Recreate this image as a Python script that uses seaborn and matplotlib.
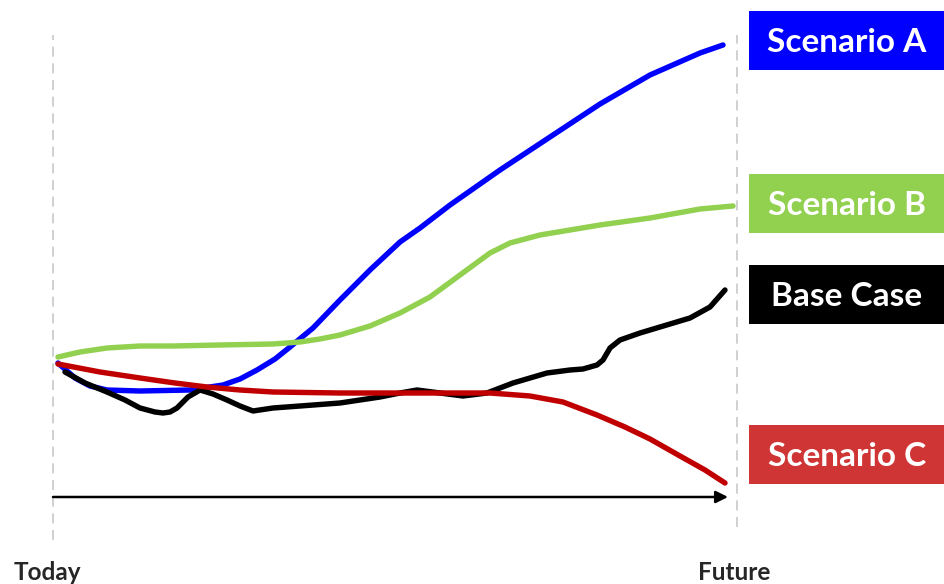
"""
Scenario fan chart: Today -> Future, four trajectories with labelled boxes on the right.
"""

import pandas as pd
import matplotlib.pyplot as plt
from matplotlib.patches import Rectangle
import seaborn as sns

# time runs from 0 (Today) to 674 (Future); level is an index, 0 sits on the time arrow
blue_t = [5, 22, 37, 54, 87, 137, 170, 187, 204, 222, 237, 260, 287, 317, 347, 367, 397, 447, 497, 547, 597, 647, 670]
blue_v = [134, 119, 111, 107, 106, 107, 112, 118, 127, 138, 150, 169, 197, 227, 255, 269, 292, 327, 360, 393, 422, 444, 452]

green_t = [5, 27, 54, 87, 120, 167, 220, 247, 267, 287, 317, 347, 377, 407, 437, 457, 487, 517, 547, 597, 647, 680]
green_v = [140, 145, 149, 151, 151, 152, 153, 155, 158, 162, 171, 184, 200, 222, 244, 254, 262, 267, 272, 279, 288, 291]

black_t = [12, 32, 54, 72, 87, 102, 110, 117, 124, 135, 147, 160, 174, 187, 200, 220, 247, 287, 327, 347, 364,
           387, 410, 434, 460, 494, 517, 530, 544, 550, 557, 567, 587, 607, 637, 657, 672]
black_v = [125, 114, 105, 97, 89, 85, 84, 85, 89, 100, 107, 103, 97, 91, 86, 89, 91, 94, 100, 104, 107,
           104, 101, 104, 114, 124, 127, 128, 132, 137, 149, 157, 164, 170, 179, 190, 207]

red_t = [5, 47, 87, 122, 154, 187, 220, 287, 377, 437, 477, 510, 544, 572, 597, 627, 652, 672]
red_v = [133, 125, 119, 114, 110, 107, 105, 104, 104, 104, 101, 95, 82, 70, 58, 41, 27, 14]

scenarios = ["Scenario A", "Scenario B", "Base Case", "Scenario C"]
line_colors = ["#0000FF", "#92D050", "#000000", "#C00000"]
box_colors = ["#0000FF", "#92D050", "#000000", "#CF3535"]
# label box centre levels (matching where each series ends)
box_levels = [457, 294, 203, 43]

start_label = "Today"
end_label = "Future"


def build_frame():
    series = [(blue_t, blue_v), (green_t, green_v), (black_t, black_v), (red_t, red_v)]
    frames = []
    for name, (t, v) in zip(scenarios, series):
        frames.append(pd.DataFrame({"time": t, "level": v, "scenario": name}))
    return pd.concat(frames, ignore_index=True)


def main():
    sns.set_theme(style="white")
    plt.rcParams["font.family"] = ["Lato", "DejaVu Sans"]

    df = build_frame()

    fig = plt.figure(figsize=(9.45, 5.84), dpi=100)
    ax = fig.add_axes([0, 0, 1, 1])

    # guides at Today and Future
    ax.plot([0, 0], [-43, 462], color="#C8C8C8", lw=1.2, ls=(0, (6, 4)), zorder=1)
    ax.plot([684, 684], [-30, 462], color="#C8C8C8", lw=1.2, ls=(0, (6, 4)), zorder=1)

    # time arrow
    ax.annotate("", xy=(675, 0), xytext=(0, 0),
                arrowprops=dict(arrowstyle="-|>,head_length=0.6,head_width=0.3",
                                color="black", lw=1.8, shrinkA=0, shrinkB=0))

    sns.lineplot(data=df, x="time", y="level", hue="scenario", palette=line_colors,
                 hue_order=scenarios, estimator=None, sort=False, lw=3.9,
                 legend=False, ax=ax, zorder=3)
    for line in ax.get_lines():
        line.set_solid_capstyle("round")
        line.set_solid_joinstyle("round")

    # labelled boxes on the right
    for name, col, lvl in zip(scenarios, box_colors, box_levels):
        ax.add_patch(Rectangle((696, lvl - 29.5), 196, 59, facecolor=col, edgecolor="none", zorder=4))
        ax.text(794, lvl - 2.5, name, color="white", fontsize=24, fontweight="bold",
                ha="center", va="center", zorder=5)

    ax.text(-39, -75, start_label, fontsize=17.5, fontweight="bold", ha="left", va="center")
    ax.text(681, -75, end_label, fontsize=17.5, fontweight="bold", ha="center", va="center")

    ax.set_xlim(-53, 892)
    ax.set_ylim(-87, 497)
    ax.axis("off")

    fig.savefig("out.png", dpi=100)


if __name__ == "__main__":
    main()
